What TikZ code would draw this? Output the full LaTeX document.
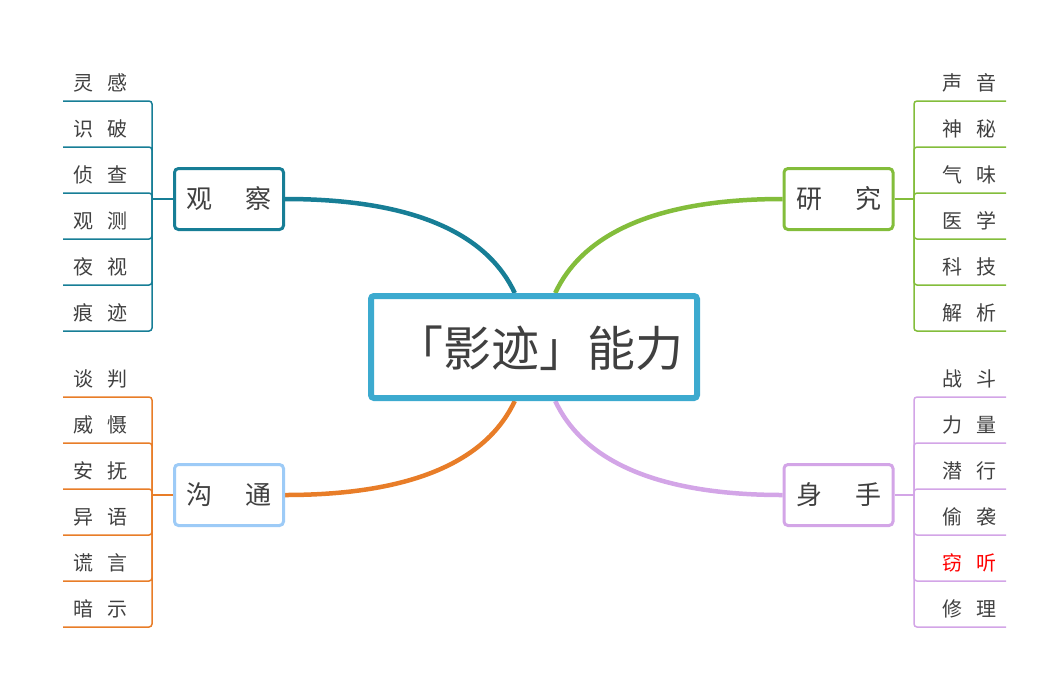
\documentclass[tikz,border=0pt]{standalone}
\usepackage{fontspec}
\newfontfamily\cjk{Noto Sans CJK SC}
\usetikzlibrary{calc,backgrounds}
\definecolor{tealc}{HTML}{177E96}
\definecolor{greenc}{HTML}{83BD3B}
\definecolor{orangec}{HTML}{E87D28}
\definecolor{purplec}{HTML}{D3A5E7}
\definecolor{bluec}{HTML}{3CAACF}
\definecolor{lightbluec}{HTML}{9DCBF7}
\definecolor{txt}{HTML}{404040}
\begin{document}
\begin{tikzpicture}[x=1pt,y=-1pt,
  leaf/.style={font=\cjk\fontsize{20}{24}\selectfont, text=txt, inner sep=0pt},
  branch/.style={font=\cjk\fontsize{26}{30}\selectfont, text=txt, fill=white, line width=3pt, rounded corners=4pt, minimum width=109pt, minimum height=61pt, inner sep=0pt},
  curve/.style={line width=4.5pt},
  stem/.style={line width=2pt},
  under/.style={line width=1.5pt, rounded corners=3pt}]
\useasboundingbox (0,0) rectangle (1063,689);
% centre
\node[draw=bluec, fill=white, line width=6pt, rounded corners=3pt, minimum width=326pt, minimum height=102pt, inner sep=0pt] (c) at (534,347) {};
\node[font=\cjk\fontsize{48}{52}\selectfont, text=txt, inner sep=0pt] (ct) at (539,348) {「影迹」能力};
% branches
\node[branch, draw=tealc] (obs) at (229,199) {观\hspace{33pt}察};
\node[branch, draw=greenc] (res) at (838.5,199) {研\hspace{33pt}究};
\node[branch, draw=lightbluec] (com) at (229,495) {沟\hspace{33pt}通};
\node[branch, draw=purplec] (phy) at (838.5,495) {身\hspace{33pt}手};
\coordinate (ctl) at ($(c.north west)!0.442!(c.north east)$);
\coordinate (ctr) at ($(c.north west)!0.564!(c.north east)$);
\coordinate (cbl) at ($(c.south west)!0.442!(c.south east)$);
\coordinate (cbr) at ($(c.south west)!0.564!(c.south east)$);
\begin{scope}[on background layer]
\draw[curve, tealc] (obs.east) .. controls (425,199) and (490,240) .. (ctl);
\draw[curve, greenc] (res.west) .. controls (645,199) and (580,240) .. (ctr);
\draw[curve, orangec] (com.east) .. controls (425,495) and (490,454) .. (cbl);
\draw[curve, purplec] (phy.west) .. controls (645,495) and (580,454) .. (cbr);
\end{scope}
% junctions
\coordinate (jo) at (152,199);
\coordinate (jr) at (914,199);
\coordinate (jc) at (152,495);
\coordinate (jp) at (914,495);
\draw[stem, tealc] (obs.west) -- (jo);
\draw[stem, greenc] (res.east) -- (jr);
\draw[stem, orangec] (com.west) -- (jc);
\draw[stem, purplec] (phy.east) -- (jp);
% leaves
\foreach \t [count=\i from 0] in {灵\hspace{14pt}感, 识\hspace{14pt}破, 侦\hspace{14pt}查, 观\hspace{14pt}测, 夜\hspace{14pt}视, 痕\hspace{14pt}迹} {
  \pgfmathsetmacro\yy{101+46*\i}
  \node[leaf] (ol\i) at (100,\yy-18) {\t};
  \coordinate (ou\i) at (63,\yy);
  \draw[under, tealc] (jo) |- (ou\i);
}
\foreach \t [count=\i from 0] in {声\hspace{14pt}音, 神\hspace{14pt}秘, 气\hspace{14pt}味, 医\hspace{14pt}学, 科\hspace{14pt}技, 解\hspace{14pt}析} {
  \pgfmathsetmacro\yy{101+46*\i}
  \node[leaf] (rl\i) at (969,\yy-18) {\t};
  \coordinate (ru\i) at (1006,\yy);
  \draw[under, greenc] (jr) |- (ru\i);
}
\foreach \t [count=\i from 0] in {谈\hspace{14pt}判, 威\hspace{14pt}慑, 安\hspace{14pt}抚, 异\hspace{14pt}语, 谎\hspace{14pt}言, 暗\hspace{14pt}示} {
  \pgfmathsetmacro\yy{397+46*\i}
  \node[leaf] (cl\i) at (100,\yy-18) {\t};
  \coordinate (cu\i) at (63,\yy);
  \draw[under, orangec] (jc) |- (cu\i);
}
\foreach \t [count=\i from 0] in {战\hspace{14pt}斗, 力\hspace{14pt}量, 潜\hspace{14pt}行, 偷\hspace{14pt}袭, {\color{red}窃\hspace{14pt}听}, 修\hspace{14pt}理} {
  \pgfmathsetmacro\yy{397+46*\i}
  \node[leaf] (pl\i) at (969,\yy-18) {\t};
  \coordinate (pu\i) at (1006,\yy);
  \draw[under, purplec] (jp) |- (pu\i);
}
\end{tikzpicture}
\end{document}
